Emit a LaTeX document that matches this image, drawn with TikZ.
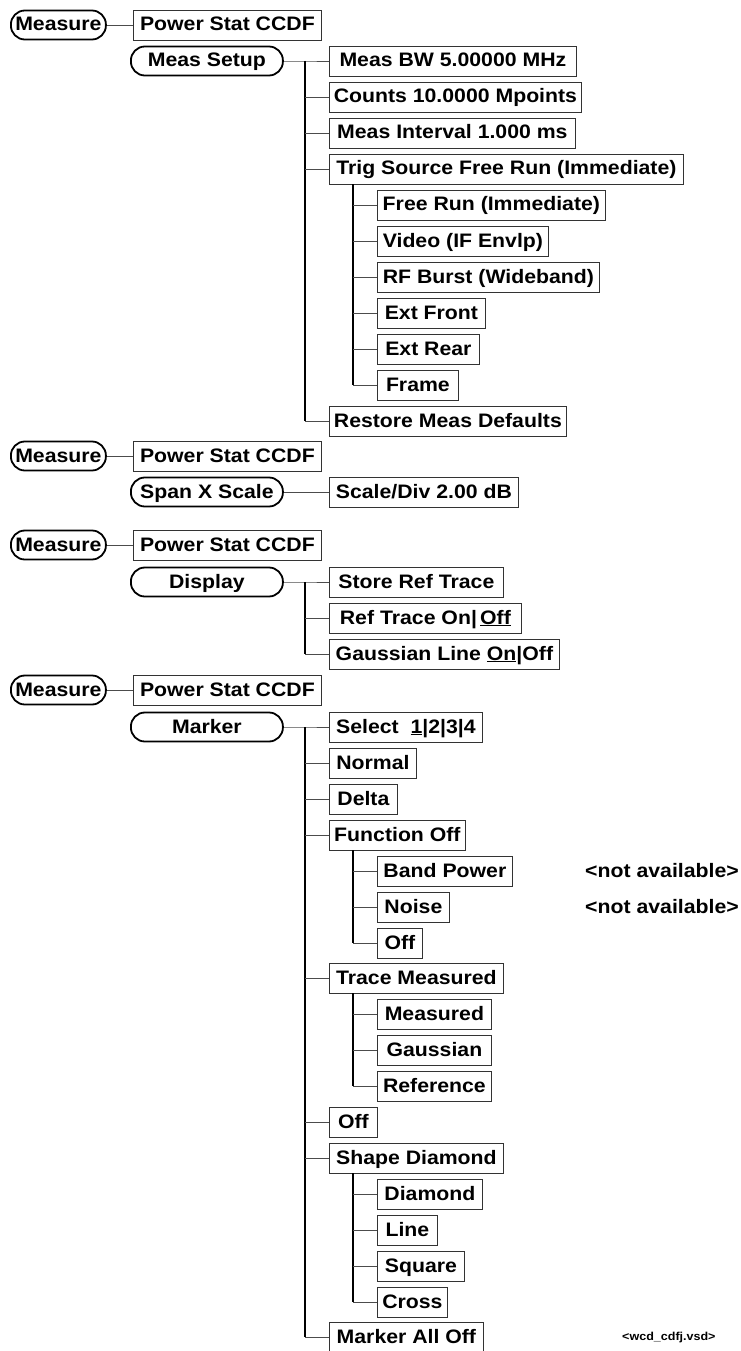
\documentclass[tikz,border=0pt]{standalone}
\usepackage{fontspec}
\setmainfont{Liberation Sans}[FakeStretch=1.09]
\usepackage{tikz}

\tikzset{
  menu/.style={draw=black!80, line width=0.8pt, anchor=west, minimum width=#1,
    minimum height=30pt, inner xsep=2pt, inner ysep=0pt,
    text height=14pt, text depth=2pt, font=\bfseries\fontsize{19.5}{22}\selectfont},
  hardkey/.style={draw, line width=1.8pt, rounded corners=14pt, anchor=west,
    minimum width=#1, minimum height=29pt, inner xsep=2pt, inner ysep=0pt,
    text height=14pt, text depth=2pt, font=\bfseries\fontsize{19.5}{22}\selectfont},
  note/.style={anchor=west, inner sep=0pt, text height=14pt, text depth=2pt,
    font=\bfseries\fontsize{19.5}{22}\selectfont},
  link/.style={draw=black!70, line width=0.9pt},
  trunk/.style={draw=black, line width=1.2pt}
}

\begin{document}
\begin{tikzpicture}[x=1pt, y=-1pt]
  \useasboundingbox (0,0) rectangle (740,1351);

  % Meas Setup
  \node[hardkey=95] (m1) at (10,25) {Measure};
  \node[menu=188] (p1) at (133,25) {Power Stat CCDF};
  \draw[link] (m1) -- (p1);
  \node[hardkey=152] (ms) at (130,61) {Meas Setup};
  \node[menu=247] (bw) at (329,61) {Meas BW 5.00000 MHz};
  \node[menu=252] (cnt) at (329,97) {Counts 10.0000 Mpoints};
  \node[menu=246] (mi) at (329,133) {Meas Interval 1.000 ms};
  \node[menu=354] (trig) at (329,169) {Trig Source Free Run (Immediate)};
  \node[menu=228] (fr) at (377,205) {Free Run (Immediate)};
  \node[menu=171] (vid) at (377,241) {Video (IF Envlp)};
  \node[menu=222] (rfb) at (377,277) {RF Burst (Wideband)};
  \node[menu=108] (ef) at (377,313) {Ext Front};
  \node[menu=102] (er) at (377,349) {Ext Rear};
  \node[menu=81] (frm) at (377,385) {Frame};
  \node[menu=237] (rmd) at (329,421) {Restore Meas Defaults};
  \coordinate (b1) at (305,61);
  \coordinate (t1) at (353,169);
  \draw[link] (ms) -- (b1) -- (bw);
  \draw[trunk] (b1) -- (b1 |- rmd);
  \draw[link] (b1 |- cnt) -- (cnt);
  \draw[link] (b1 |- mi) -- (mi);
  \draw[link] (b1 |- trig) -- (trig);
  \draw[link] (b1 |- rmd) -- (rmd);
  \draw[trunk] (t1 |- trig.south) -- (t1 |- frm);
  \draw[link] (t1 |- fr) -- (fr);
  \draw[link] (t1 |- vid) -- (vid);
  \draw[link] (t1 |- rfb) -- (rfb);
  \draw[link] (t1 |- ef) -- (ef);
  \draw[link] (t1 |- er) -- (er);
  \draw[link] (t1 |- frm) -- (frm);

  % Span X Scale
  \node[hardkey=95] (m2) at (10,456) {Measure};
  \node[menu=188] (p2) at (133,456) {Power Stat CCDF};
  \draw[link] (m2) -- (p2);
  \node[hardkey=152] (sxs) at (130,492) {Span X Scale};
  \node[menu=189] (sd) at (329,492) {Scale/Div 2.00 dB};
  \draw[link] (sxs) -- (sd);

  % Display
  \node[hardkey=95] (m3) at (10,545) {Measure};
  \node[menu=188] (p3) at (133,545) {Power Stat CCDF};
  \draw[link] (m3) -- (p3);
  \node[hardkey=152] (disp) at (130,582) {Display};
  \node[menu=174] (srt) at (329,582) {Store Ref Trace};
  \node[menu=192] (rto) at (329,618) {Ref Trace On|\,\underline{Off}};
  \node[menu=230] (gl) at (329,654) {Gaussian Line \underline{On}|Off};
  \coordinate (b3) at (305,582);
  \draw[link] (disp) -- (b3) -- (srt);
  \draw[trunk] (b3) -- (b3 |- gl);
  \draw[link] (b3 |- rto) -- (rto);
  \draw[link] (b3 |- gl) -- (gl);

  % Marker
  \node[hardkey=95] (m4) at (10,690) {Measure};
  \node[menu=188] (p4) at (133,690) {Power Stat CCDF};
  \draw[link] (m4) -- (p4);
  \node[hardkey=152] (mk) at (130,727) {Marker};
  \node[menu=153] (sel) at (329,727) {Select\ \ \underline{1}|2|3|4};
  \node[menu=87] (nrm) at (329,763) {Normal};
  \node[menu=68] (dlt) at (329,799) {Delta};
  \node[menu=136] (fn) at (329,835) {Function Off};
  \node[menu=135] (bp) at (377,871) {Band Power};
  \node[menu=72] (nse) at (377,907) {Noise};
  \node[menu=45] (foff) at (377,943) {Off};
  \node[menu=174] (tm) at (329,978) {Trace Measured};
  \node[menu=114] (tmm) at (377,1014) {Measured};
  \node[menu=114] (tmg) at (377,1050) {Gaussian};
  \node[menu=114] (tmr) at (377,1086) {Reference};
  \node[menu=48] (off) at (329,1122) {Off};
  \node[menu=174] (sh) at (329,1158) {Shape Diamond};
  \node[menu=105] (dia) at (377,1194) {Diamond};
  \node[menu=60] (lin) at (377,1230) {Line};
  \node[menu=87] (sq) at (377,1266) {Square};
  \node[menu=70] (crs) at (377,1302) {Cross};
  \node[menu=154] (mao) at (329,1337) {Marker All Off};
  \node[note] (na1) at (585,871) {<not available>};
  \node[note] (na2) at (585,907) {<not available>};
  \node[note, font=\bfseries\fontsize{11.5}{13}\selectfont, text height=9pt] (vsd) at (622,1337) {<wcd\_cdfj.vsd>};
  \coordinate (b4) at (305,727);
  \coordinate (f4) at (353,835);
  \coordinate (g4) at (353,978);
  \coordinate (h4) at (353,1158);
  \draw[link] (mk) -- (b4) -- (sel);
  \draw[trunk] (b4) -- (b4 |- mao);
  \draw[link] (b4 |- nrm) -- (nrm);
  \draw[link] (b4 |- dlt) -- (dlt);
  \draw[link] (b4 |- fn) -- (fn);
  \draw[link] (b4 |- tm) -- (tm);
  \draw[link] (b4 |- off) -- (off);
  \draw[link] (b4 |- sh) -- (sh);
  \draw[link] (b4 |- mao) -- (mao);
  \draw[trunk] (f4 |- fn.south) -- (f4 |- foff);
  \draw[link] (f4 |- bp) -- (bp);
  \draw[link] (f4 |- nse) -- (nse);
  \draw[link] (f4 |- foff) -- (foff);
  \draw[trunk] (g4 |- tm.south) -- (g4 |- tmr);
  \draw[link] (g4 |- tmm) -- (tmm);
  \draw[link] (g4 |- tmg) -- (tmg);
  \draw[link] (g4 |- tmr) -- (tmr);
  \draw[trunk] (h4 |- sh.south) -- (h4 |- crs);
  \draw[link] (h4 |- dia) -- (dia);
  \draw[link] (h4 |- lin) -- (lin);
  \draw[link] (h4 |- sq) -- (sq);
  \draw[link] (h4 |- crs) -- (crs);
\end{tikzpicture}
\end{document}
